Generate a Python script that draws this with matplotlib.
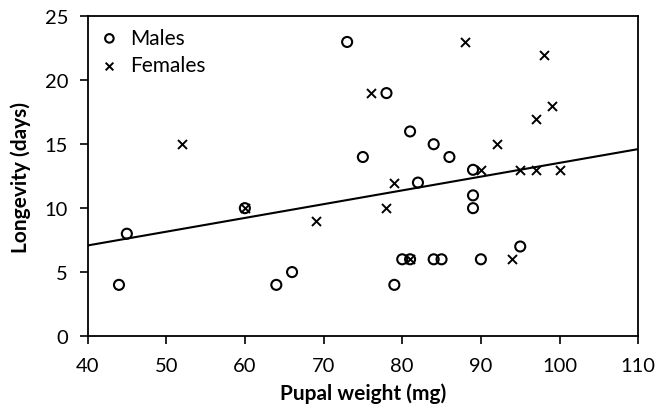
import matplotlib.pyplot as plt

plt.rcParams['font.family'] = ['Lato', 'DejaVu Sans']

# males (open circles)
male_weight = [44, 45, 60, 64, 66, 73, 75, 78, 79, 80, 81, 81, 82, 84, 84, 85, 86,
               89, 89, 89, 90, 95]
male_longevity = [4, 8, 10, 4, 5, 23, 14, 19, 4, 6, 6, 16, 12, 15, 6, 6, 14,
                  13, 11, 10, 6, 7]

# females (crosses)
female_weight = [52, 60, 69, 76, 78, 79, 81, 88, 90, 92, 94, 95, 97, 97, 98, 99, 100]
female_longevity = [15, 10, 9, 19, 10, 12, 6, 23, 13, 15, 6, 13, 13, 17, 22, 18, 13]

# trend line
trend_x = [40, 110]
trend_y = [7.08, 14.62]

x_ticks = [40, 50, 60, 70, 80, 90, 100, 110]
y_ticks = [0, 5, 10, 15, 20, 25]

fig = plt.figure(figsize=(6.7, 4.14), dpi=100)
ax = fig.add_axes([0.1306, 0.186, 0.822, 0.772])

ax.plot(trend_x, trend_y, color='black', linewidth=1.5, zorder=1)
ax.scatter(male_weight, male_longevity, marker='o', s=52, facecolors='none',
           edgecolors='black', linewidths=1.5, label='Males', zorder=2)
ax.scatter(female_weight, female_longevity, marker='x', s=42, color='black',
           linewidths=1.4, label='Females', zorder=3)

ax.set_xlim(40, 110)
ax.set_ylim(0, 25)
ax.set_xticks(x_ticks)
ax.set_yticks(y_ticks)
ax.tick_params(direction='out', length=6, width=1.2, labelsize=14.5, color='black')
ax.tick_params(axis='x', pad=9)
ax.tick_params(axis='y', pad=8)
for s in ax.spines.values():
    s.set_linewidth(1.3)

ax.set_xlabel('Pupal weight (mg)', fontsize=15, fontweight='bold', labelpad=6)
ax.set_ylabel('Longevity (days)', fontsize=15, fontweight='bold', labelpad=10)

leg = ax.legend(loc='upper left', frameon=False, fontsize=15, markerscale=0.85,
                handletextpad=0.5, handlelength=1.0, borderaxespad=0.15,
                labelspacing=0.35)

fig.savefig('out.png', dpi=100)
